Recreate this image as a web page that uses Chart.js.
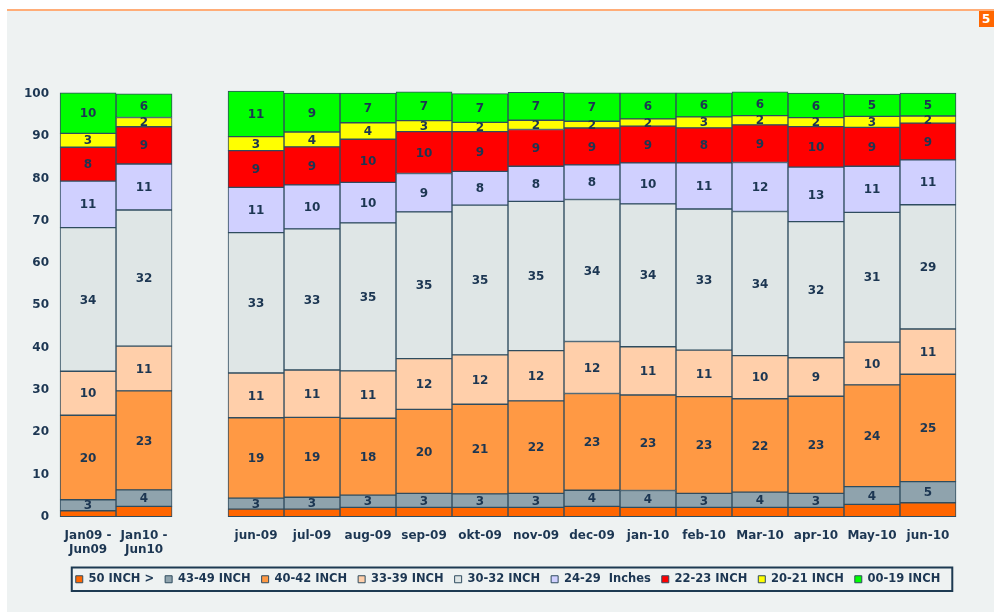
<!DOCTYPE html>
<html>
<head>
<meta charset="utf-8">
<script src="https://cdn.jsdelivr.net/npm/chart.js@4/dist/chart.umd.min.js"></script>
<style>
  html, body { margin: 0; padding: 0; background: #ffffff; }
  #bg { position: absolute; left: 7px; top: 9px; width: 987px; height: 603px; background: #eef2f2; border-top: 2px solid #ffad78; box-sizing: border-box; }
  #tag { position: absolute; left: 979px; top: 11px; width: 15px; height: 16px; background: #ff6600; color: #fff; font: bold 12px "DejaVu Sans", sans-serif; line-height: 16px; padding-left: 3px; box-sizing: border-box; overflow: hidden; }
  #wrap { position: absolute; left: 0; top: 0; width: 994px; height: 612px; }
</style>
</head>
<body>
<div id="bg"></div>
<div id="tag">5</div>
<div id="wrap"><canvas id="c" width="994" height="612"></canvas></div>
<script>
const categories = [["Jan09 -", "Jun09"], ["Jan10 -", "Jun10"], "", "jun-09", "jul-09", "aug-09", "sep-09", "okt-09", "nov-09", "dec-09", "jan-10", "feb-10", "Mar-10", "apr-10", "May-10", "jun-10"];
const seriesNames = ["50 INCH >", "43-49 INCH", "40-42 INCH", "33-39 INCH", "30-32 INCH", "24-29  Inches", "22-23 INCH", "20-21 INCH", "00-19 INCH"];
const seriesColors = ["#ff6600", "#8fa3ad", "#ff9944", "#ffcfaa", "#dfe6e6", "#d0d0ff", "#ff0000", "#ffff00", "#00ff00"];
const yTicks = [0, 10, 20, 30, 40, 50, 60, 70, 80, 90, 100];

const s50 = [1.4, 2.45, null, 1.8, 1.8, 2.2, 2.2, 2.2, 2.2, 2.45, 2.2, 2.2, 2.2, 2.2, 2.9, 3.3];
const s43 = [2.6, 3.9, null, 2.6, 2.8, 2.9, 3.3, 3.2, 3.3, 3.8, 4.0, 3.3, 3.6, 3.3, 4.2, 5.0];
const s40 = [20.0, 23.4, null, 19.0, 18.9, 18.2, 19.9, 21.2, 21.9, 22.9, 22.6, 22.9, 22.1, 23.0, 24.1, 25.4];
const s33 = [10.4, 10.6, null, 10.6, 11.2, 11.2, 12.0, 11.7, 11.9, 12.3, 11.4, 11.0, 10.2, 9.1, 10.1, 10.7];
const s30 = [34.0, 32.2, null, 33.2, 33.4, 35.0, 34.7, 35.4, 35.3, 33.6, 33.8, 33.4, 34.1, 32.2, 30.7, 29.4];
const s24 = [11.0, 10.9, null, 10.7, 10.4, 9.6, 9.1, 8.0, 8.3, 8.2, 9.7, 10.9, 11.6, 12.9, 10.9, 10.6];
const s22 = [8.0, 8.8, null, 8.7, 9.0, 10.2, 9.9, 9.4, 8.7, 8.7, 8.7, 8.3, 8.9, 9.6, 9.2, 8.7];
const s20 = [3.3, 2.2, null, 3.3, 3.5, 3.9, 2.6, 2.2, 2.2, 1.6, 1.7, 2.6, 2.2, 2.1, 2.6, 1.7];
const s00 = [9.6, 5.6, null, 10.8, 9.2, 7.0, 6.8, 6.8, 6.6, 6.7, 6.2, 5.7, 5.6, 5.8, 5.3, 5.4];

const seriesValues = [s50, s43, s40, s33, s30, s24, s22, s20, s00];
const TEXT = "#1c3652";
const FONT = "'DejaVu Sans', Verdana, sans-serif";

const valueLabels = {
  id: "valueLabels",
  afterDatasetsDraw(chart) {
    const ctx = chart.ctx;
    ctx.save();
    ctx.font = "bold 12px " + FONT;
    ctx.fillStyle = TEXT;
    ctx.textAlign = "center";
    ctx.textBaseline = "middle";
    chart.data.datasets.forEach((ds, di) => {
      if (di === 0) return;
      const meta = chart.getDatasetMeta(di);
      meta.data.forEach((el, i) => {
        const v = ds.data[i];
        if (v === null || v === undefined) return;
        const cy = (el.y + el.base) / 2;
        ctx.fillText(String(Math.round(v)), el.x, cy + 1);
      });
    });
    ctx.restore();
  }
};

const legendBorder = {
  id: "legendBorder",
  afterDraw(chart) {
    const lg = chart.legend;
    if (!lg || !lg.legendHitBoxes || !lg.legendHitBoxes.length) return;
    const boxes = lg.legendHitBoxes;
    let minX = Infinity, maxX = -Infinity, minY = Infinity, maxY = -Infinity;
    boxes.forEach(b => {
      minX = Math.min(minX, b.left); maxX = Math.max(maxX, b.left + b.width);
      minY = Math.min(minY, b.top); maxY = Math.max(maxY, b.top + b.height);
    });
    const ctx = chart.ctx;
    ctx.save();
    ctx.strokeStyle = "#1d3a52";
    ctx.lineWidth = 2;
    ctx.strokeRect(minX - 4, minY - 6, (maxX - minX) + 16, (maxY - minY) + 12);
    ctx.restore();
  }
};

const datasets = seriesNames.map((name, i) => ({
  label: name,
  data: seriesValues[i],
  backgroundColor: seriesColors[i],
  borderColor: "#2f4c5f",
  borderWidth: 1,
  borderSkipped: false,
  barPercentage: 1.0,
  categoryPercentage: 1.0,
  clip: false
}));

new Chart(document.getElementById("c"), {
  type: "bar",
  data: { labels: categories, datasets },
  options: {
    responsive: false,
    animation: false,
    layout: { padding: { left: 13, right: 38, top: 94, bottom: 17 } },
    plugins: {
      legend: {
        position: "bottom",
        fullSize: false,
        labels: {
          boxWidth: 7,
          boxHeight: 7,
          padding: 11,
          color: TEXT,
          font: { family: FONT, size: 11.5, weight: "bold" }
        }
      },
      tooltip: { enabled: false }
    },
    scales: {
      x: {
        stacked: true,
        grid: { display: false, drawTicks: false },
        border: { display: false },
        afterFit(scale) { scale.height -= 7; },
        ticks: {
          autoSkip: false,
          maxRotation: 0,
          padding: 12,
          color: TEXT,
          font: { family: FONT, size: 12, weight: "bold" }
        }
      },
      y: {
        stacked: true,
        min: 0,
        max: 100,
        afterBuildTicks(scale) { scale.ticks = yTicks.map(v => ({ value: v })); },
        grid: { display: false, drawTicks: false },
        border: { display: false },
        ticks: {
          padding: 11,
          color: TEXT,
          font: { family: FONT, size: 12, weight: "bold" }
        }
      }
    }
  },
  plugins: [valueLabels, legendBorder]
});
</script>
</body>
</html>
